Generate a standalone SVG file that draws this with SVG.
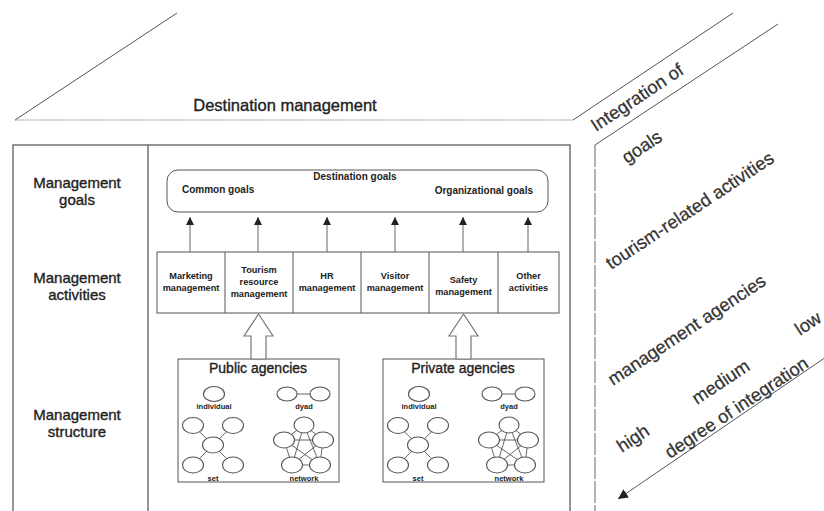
<svg xmlns="http://www.w3.org/2000/svg" xmlns:xlink="http://www.w3.org/1999/xlink" width="824" height="511" viewBox="0 0 824 511">
  <style>
    text { font-family: "Liberation Sans", Arial, sans-serif; fill: #222; }
    .big { font-size: 16.5px; stroke: #222; stroke-width: 0.35; }
    .lbl { font-size: 15px; text-anchor: middle; stroke: #222; stroke-width: 0.35; }
    .axis { font-size: 18.3px; fill: #333; stroke: #333; stroke-width: 0.25; }
    .act { font-size: 9.2px; font-weight: bold; text-anchor: middle; }
    .goal { font-size: 10px; font-weight: bold; }
    .agency { font-size: 14px; text-anchor: middle; stroke: #222; stroke-width: 0.35; }
    .tiny { font-size: 7.5px; font-weight: bold; text-anchor: middle; }
    .frame { fill: none; stroke: #666; stroke-width: 1.4; }
    .thin { fill: none; stroke: #555; stroke-width: 1; }
    .node { fill: #fff; stroke: #555; stroke-width: 1.1; }
    .edge { stroke: #555; stroke-width: 0.9; }
    .block { fill: #fff; stroke: #777; stroke-width: 1.2; }
  </style>
  <defs>
    <marker id="tri" viewBox="0 0 10 10" refX="10" refY="5" markerWidth="8" markerHeight="8" markerUnits="userSpaceOnUse" orient="auto">
      <path d="M0,0 L10,5 L0,10 Z" fill="#222"/>
    </marker>
    <marker id="tri-big" viewBox="0 0 10 10" refX="10" refY="5" markerWidth="10" markerHeight="10" markerUnits="userSpaceOnUse" orient="auto">
      <path d="M0,0 L10,5 L0,10 Z" fill="#222"/>
    </marker>
    <!-- four forms of agency organisation: individual, dyad, set, network -->
    <g id="agency-forms">
      <ellipse class="node" cx="214" cy="394" rx="10.5" ry="7.5"/>
      <text class="tiny" x="214" y="409">individual</text>

      <line class="edge" x1="287" y1="394" x2="320" y2="394"/>
      <ellipse class="node" cx="287" cy="394" rx="10" ry="7"/>
      <ellipse class="node" cx="320" cy="394" rx="10" ry="7"/>
      <text class="tiny" x="304" y="409">dyad</text>

      <line class="edge" x1="213" y1="445" x2="193" y2="425.5"/>
      <line class="edge" x1="213" y1="445" x2="233" y2="425.5"/>
      <line class="edge" x1="213" y1="445" x2="193" y2="465"/>
      <line class="edge" x1="213" y1="445" x2="233" y2="465"/>
      <ellipse class="node" cx="193" cy="425.5" rx="10.5" ry="8"/>
      <ellipse class="node" cx="233" cy="425.5" rx="10.5" ry="8"/>
      <ellipse class="node" cx="213" cy="445" rx="10.5" ry="8"/>
      <ellipse class="node" cx="193" cy="465" rx="10.5" ry="8"/>
      <ellipse class="node" cx="233" cy="465" rx="10.5" ry="8"/>
      <text class="tiny" x="213" y="481">set</text>

      <g class="edge">
        <line x1="304" y1="425" x2="284" y2="440"/>
        <line x1="304" y1="425" x2="323" y2="440"/>
        <line x1="304" y1="425" x2="292" y2="465"/>
        <line x1="304" y1="425" x2="320" y2="465"/>
        <line x1="284" y1="440" x2="323" y2="440"/>
        <line x1="284" y1="440" x2="292" y2="465"/>
        <line x1="284" y1="440" x2="320" y2="465"/>
        <line x1="323" y1="440" x2="292" y2="465"/>
        <line x1="323" y1="440" x2="320" y2="465"/>
        <line x1="292" y1="465" x2="320" y2="465"/>
      </g>
      <ellipse class="node" cx="304" cy="425" rx="10" ry="8"/>
      <ellipse class="node" cx="284" cy="440" rx="10.5" ry="8"/>
      <ellipse class="node" cx="323" cy="440" rx="10.5" ry="8"/>
      <ellipse class="node" cx="292" cy="465" rx="10.5" ry="8"/>
      <ellipse class="node" cx="320" cy="465" rx="10.5" ry="8"/>
      <text class="tiny" x="304" y="481">network</text>
    </g>
  </defs>

  <rect width="824" height="511" fill="#fff"/>

  <!-- cube outline: top face and side face -->
  <g id="cube-outline">
    <line class="thin" x1="15" y1="120" x2="177" y2="13" stroke="#777"/>
    <line x1="15" y1="120" x2="573" y2="120" stroke="#888" stroke-width="1.2" stroke-dasharray="1.5 1"/>
    <line class="thin" x1="573" y1="120" x2="733" y2="13" stroke="#777"/>
    <line class="thin" x1="595" y1="145" x2="778" y2="24" stroke="#777"/>
    <line x1="595" y1="145" x2="595" y2="515" stroke="#888" stroke-width="1.3" stroke-dasharray="22 2"/>
  </g>

  <g id="title">
    <text class="big" x="285" y="111" text-anchor="middle">Destination management</text>
  </g>

  <!-- front face frame -->
  <g id="front-frame">
    <rect class="frame" x="13" y="145" width="557" height="380"/>
    <line class="frame" x1="148" y1="145" x2="148" y2="525"/>
  </g>

  <g id="row-labels">
    <text class="lbl" x="77" y="188">Management</text>
    <text class="lbl" x="77" y="205">goals</text>
    <text class="lbl" x="77" y="283">Management</text>
    <text class="lbl" x="77" y="300">activities</text>
    <text class="lbl" x="77" y="420">Management</text>
    <text class="lbl" x="77" y="437">structure</text>
  </g>

  <g id="goals">
    <rect class="thin" x="167" y="170" width="381" height="42" rx="11" stroke="#666" stroke-width="1.2"/>
    <text class="goal" x="355" y="180" text-anchor="middle">Destination goals</text>
    <text class="goal" x="182" y="193">Common goals</text>
    <text class="goal" x="533" y="194" text-anchor="end">Organizational goals</text>
  </g>

  <g id="activities">
    <rect class="thin" x="157" y="252" width="402" height="61" stroke="#666" stroke-width="1.2"/>
    <g class="thin" stroke="#666" stroke-width="1.2">
      <line x1="225" y1="252" x2="225" y2="313"/>
      <line x1="293" y1="252" x2="293" y2="313"/>
      <line x1="361" y1="252" x2="361" y2="313"/>
      <line x1="429" y1="252" x2="429" y2="313"/>
      <line x1="498" y1="252" x2="498" y2="313"/>
    </g>
    <text class="act" x="191" y="279">Marketing</text>
    <text class="act" x="191" y="291">management</text>
    <text class="act" x="259" y="273">Tourism</text>
    <text class="act" x="259" y="285">resource</text>
    <text class="act" x="259" y="297">management</text>
    <text class="act" x="327" y="279">HR</text>
    <text class="act" x="327" y="291">management</text>
    <text class="act" x="395" y="279">Visitor</text>
    <text class="act" x="395" y="291">management</text>
    <text class="act" x="463.5" y="283">Safety</text>
    <text class="act" x="463.5" y="295">management</text>
    <text class="act" x="528.5" y="279">Other</text>
    <text class="act" x="528.5" y="291">activities</text>
  </g>

  <g id="public-agencies">
    <rect class="thin" x="178" y="359" width="161" height="123" stroke="#666" stroke-width="1.2"/>
    <text class="agency" x="258" y="373">Public agencies</text>
    <use xlink:href="#agency-forms" href="#agency-forms"/>
  </g>

  <g id="private-agencies">
    <rect class="thin" x="383" y="359" width="161" height="123" stroke="#666" stroke-width="1.2"/>
    <text class="agency" x="463" y="373">Private agencies</text>
    <use xlink:href="#agency-forms" href="#agency-forms" x="205"/>
  </g>

  <g id="connectors">
    <g class="edge" stroke="#444" stroke-width="1.1" marker-end="url(#tri)">
      <line x1="190" y1="252" x2="190" y2="217"/>
      <line x1="258" y1="252" x2="258" y2="217"/>
      <line x1="327" y1="252" x2="327" y2="217"/>
      <line x1="395" y1="252" x2="395" y2="217"/>
      <line x1="463" y1="252" x2="463" y2="217"/>
      <line x1="528" y1="252" x2="528" y2="217"/>
    </g>
    <path class="block" d="M258.5,314 L273,336 L266,336 L266,359 L251,359 L251,336 L244,336 Z"/>
    <path class="block" d="M463.5,314 L478,336 L471,336 L471,359 L456,359 L456,336 L449,336 Z"/>
    <line x1="826" y1="357" x2="618" y2="499" stroke="#555" stroke-width="1" marker-end="url(#tri-big)"/>
  </g>

  <!-- side face: integration axis labels -->
  <g id="integration-labels">
    <text class="axis" transform="translate(596,132) rotate(-33.5)">Integration of</text>
    <text class="axis" transform="translate(627,164) rotate(-33.5)">goals</text>
    <text class="axis" transform="translate(611,270) rotate(-33.5)">tourism-related activities</text>
    <text class="axis" transform="translate(613,386) rotate(-33.5)">management agencies</text>
    <text class="axis" transform="translate(800,336) rotate(-33.5)">low</text>
    <text class="axis" transform="translate(697,405) rotate(-33.5)">medium</text>
    <text class="axis" transform="translate(622,453) rotate(-33.5)">high</text>
    <text class="axis" transform="translate(670,459) rotate(-33.5)">degree of integration</text>
  </g>
</svg>
